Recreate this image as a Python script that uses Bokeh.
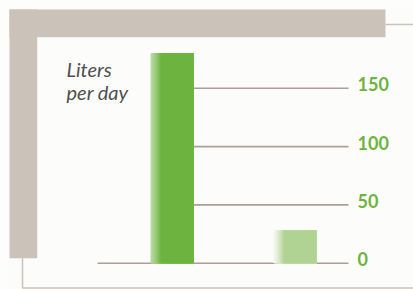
from bokeh.plotting import figure
from bokeh.models import Range1d, ColumnDataSource, Label
from bokeh.embed import file_html
from bokeh.resources import INLINE
from bokeh.core.properties import value

# ---- data ----
categories = ["A", "B"]
liters = [180, 28]
bar_colors = ["#6cb33f", "#b0d393"]
edge_alpha = [0.45, 0.08]
tick_values = [0, 50, 100, 150]
tick_labels = ["0", "50", "100", "150"]
axis_title = ["Liters", "per day"]

# ---- layout (page pixels) ----
W, H = 413, 289
X0_PX, X_STEP_PX = 171.5, 123.0      # centre of first bar, spacing
Y0_PX, PX_PER_UNIT = 262.7, 58.3 / 50
BAR_W = 43 / X_STEP_PX

def xd(P):
    return (P - X0_PX) / X_STEP_PX

def yd(P):
    return (Y0_PX - P) / PX_PER_UNIT

BG = "#fcfcfa"
FRAME = "#cbc2b9"
GRID = "#aaa097"

def blend(c, a, bg=BG):
    c1 = [int(c[i:i + 2], 16) for i in (1, 3, 5)]
    c0 = [int(bg[i:i + 2], 16) for i in (1, 3, 5)]
    return "#%02x%02x%02x" % tuple(round(a * x + (1 - a) * y) for x, y in zip(c1, c0))

p = figure(width=W, height=H, x_range=Range1d(xd(0), xd(W)),
           y_range=Range1d(yd(H), yd(0)),
           x_axis_type=None, y_axis_type=None,
           output_backend="svg", toolbar_location=None, min_border=0,
           background_fill_color=BG, border_fill_color=BG, outline_line_color=None)
p.grid.visible = False

# decorative frame
p.quad(left=[xd(9), xd(9)], right=[xd(385), xd(36.7)],
       top=[yd(9), yd(9)], bottom=[yd(36.7), yd(257.7)],
       fill_color=FRAME, line_color=None)
p.line([xd(385), xd(420)], [yd(24), yd(24)], line_color=FRAME, line_width=1.5)
p.line([xd(22), xd(22), xd(420)], [yd(257.7), yd(287.5), yd(287.5)],
       line_color=FRAME, line_width=1.5)

# gridlines: baseline spans the chart, upper lines start at the first bar's edge
xs = list(range(len(categories)))
grid_start = [xd(97) if t == 0 else xs[0] + BAR_W / 2 for t in tick_values]
p.segment(x0=grid_start, x1=[xd(348)] * len(tick_values),
          y0=tick_values, y1=tick_values, line_color=GRID, line_width=1.6)

# bars with soft left edge (opaque blended strips, overlapping)
for i, (v, c, a0) in enumerate(zip(liters, bar_colors, edge_alpha)):
    left = xs[i] - BAR_W / 2
    right = xs[i] + BAR_W / 2
    g = 0.25 * BAR_W
    n = 14
    lefts = [left + g * k / n for k in range(n)] + [left + g]
    rights = [right] * (n + 1)
    cols = [blend(c, a0 + (1 - a0) * ((k + 0.5) / n) ** 1.2) for k in range(n)] + [c]
    src = ColumnDataSource(dict(l=lefts, r=rights, c=cols))
    p.quad(left="l", right="r", bottom=0, top=v, source=src,
           fill_color="c", line_color=None)

# tick labels
p.text(x=[xd(357)] * len(tick_values), y=tick_values, text=tick_labels,
       text_font=value("Lato"), text_font_style="bold", text_font_size="18px",
       text_color="#6cb33f", text_baseline="middle", text_align="left",
       y_offset=-4)

# axis title
for t, py in zip(axis_title, [68.5, 91]):
    p.add_layout(Label(x=xd(66), y=yd(py), text=t, text_font="Lato",
                       text_font_style="italic", text_font_size="20px",
                       text_color="#505050", text_baseline="alphabetic"))

open("out.html", "w").write(file_html(p, INLINE))
